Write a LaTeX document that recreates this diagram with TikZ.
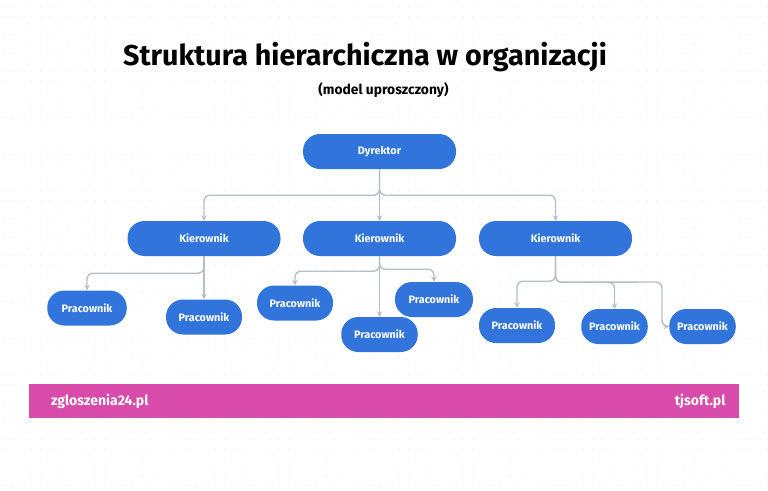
\documentclass[tikz,border=0pt]{standalone}
\usepackage{fontspec}
\setmainfont{Fira Sans}
\usepackage{xcolor}
\definecolor{boxblue}{HTML}{3174DC}
\definecolor{linegray}{HTML}{B4C0C8}
\definecolor{barpink}{HTML}{D94BAA}
\definecolor{dotgray}{HTML}{EFEFEF}
\tikzset{
    boxnode/.style={fill=boxblue, text=white, rounded corners=17pt, minimum height=35pt, inner sep=0pt, font=\fontsize{10.8}{13}\selectfont\bfseries},
    link/.style={draw=linegray, line width=1.4pt, rounded corners=6pt, -stealth},
}
\begin{document}
\begin{tikzpicture}[x=1pt,y=-1pt]

    \useasboundingbox (0,0) rectangle (768,490);
    \fill[white] (0,0) rectangle (768,490);

    % Draw the dots
    \foreach \i in {0,...,83} {
        \foreach \j in {0,...,52} {
            \fill[dotgray] (3.5+9.2*\i,7.2+9.2*\j) circle (0.6pt);
        }
    }

    % Title
    \node (title) at (365,57.5) {\fontsize{28.7}{34}\selectfont\bfseries Struktura hierarchiczna w organizacji};
    \node (subtitle) at (383.5,90.5) {\fontsize{13.8}{16}\selectfont\bfseries (model uproszczony)};

    % Boxes
    \node[boxnode, minimum width=153pt] (dyrektor) at (379.5,151.5) {\raisebox{-0.8pt}{Dyrektor}};

    \node[boxnode, minimum width=153pt] (kier1) at (204,238.5) {Kierownik};
    \node[boxnode, minimum width=153pt] (kier2) at (379.5,238.5) {Kierownik};
    \node[boxnode, minimum width=153pt] (kier3) at (555.5,238.5) {Kierownik};

    \node[boxnode, minimum width=79.5pt] (prac1) at (87,308) {Pracownik};
    \node[boxnode, minimum width=76pt] (prac2) at (204,317) {Pracownik};
    \node[boxnode, minimum width=76pt] (prac3) at (295,303) {Pracownik};
    \node[boxnode, minimum width=76.5pt] (prac4) at (379.5,334.5) {Pracownik};
    \node[boxnode, minimum width=78pt] (prac5) at (434,299.5) {Pracownik};
    \node[boxnode, minimum width=76pt] (prac6) at (517,325.5) {Pracownik};
    \node[boxnode, minimum width=66.5pt] (prac7) at (614.5,326.5) {Pracownik};
    \node[boxnode, minimum width=66.5pt] (prac8) at (702.5,326.5) {Pracownik};

    % Connectors
    \draw[link] (dyrektor.south) -- ++(0,26) -| (kier1.north);
    \draw[link] (dyrektor.south) -- (kier2.north);
    \draw[link] (dyrektor.south) -- ++(0,26) -| (kier3.north);

    \draw[link] (kier1.south) -- ++(0,17) -| (prac1.north);
    \draw[link] (kier1.south) -- (prac2.north);

    \draw[link] (kier2.south) -- ++(0,15) -| (prac3.north);
    \draw[link] (kier2.south) -- (prac4.north);
    \draw[link] (kier2.south) -- ++(0,13) -| (prac5.north);

    \draw[link] (kier3.south) -- ++(0,25) -| (prac6.north);
    \draw[link] (kier3.south) -- ++(0,26) -| (prac7.north);
    \coordinate (bend) at (662,282);
    \draw[link] (kier3.south) -- ++(0,26) -- (bend) |- (prac8.west);

    % Bottom bar
    \fill[barpink] (28.5,384) rectangle (739,417.5);
    \node[text=white, anchor=west, font=\fontsize{14}{17}\selectfont\bfseries] (site1) at (47.5,401) {zgloszenia24.pl};
    \node[text=white, anchor=east, font=\fontsize{14}{17}\selectfont\bfseries] (site2) at (729,401) {tjsoft.pl};

\end{tikzpicture}
\end{document}
